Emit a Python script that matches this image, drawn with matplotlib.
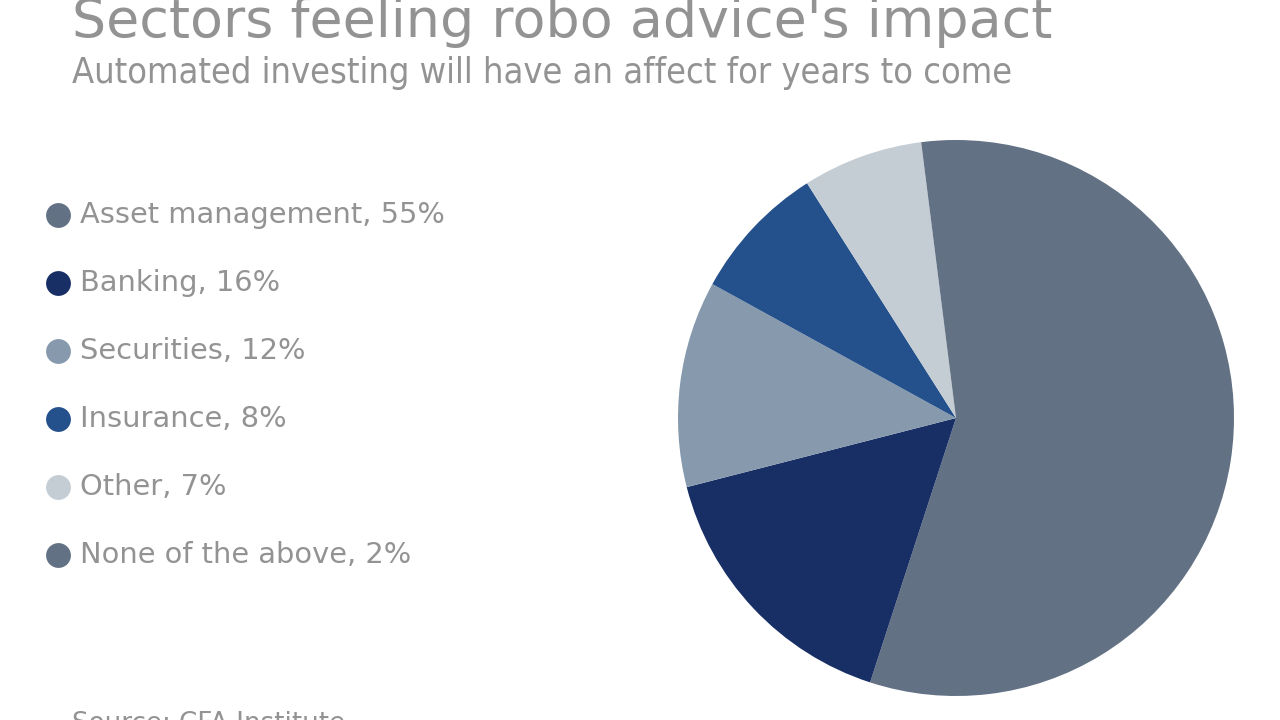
import matplotlib
matplotlib.use("Agg")
import matplotlib.pyplot as plt

categories = ["Asset management", "Banking", "Securities", "Insurance", "Other", "None of the above"]
values = [55, 16, 12, 8, 7, 2]
colors = ["#637184", "#182f66", "#879aad", "#24508c", "#c4cdd4", "#637184"]

title = "Sectors feeling robo advice's impact"
subtitle = "Automated investing will have an affect for years to come"
source = "Source: CFA Institute"

W, H = 1280, 720
fig = plt.figure(figsize=(W / 100, H / 100), dpi=100)
fig.patch.set_facecolor("white")

gray = "#939393"

fig.text(72 / W, 1 - 37 / H, title, fontsize=38.8, color=gray, family=["DejaVu Sans"],
         ha="left", va="baseline")
fig.text(72 / W, 1 - 83 / H, subtitle, fontsize=25.9, color=gray, family=["DejaVu Sans"],
         stretch="condensed", ha="left", va="baseline")
fig.text(72 / W, 1 - 711 / H, source, fontsize=18.8, color=gray, family=["DejaVu Sans"],
         ha="left", va="top")

# Pie
cx, cy, r = 956, 418, 278
ax = fig.add_axes([(cx - r) / W, (H - cy - r) / H, 2 * r / W, 2 * r / H])
ax.pie(values, colors=colors, startangle=90, counterclock=False,
       wedgeprops=dict(linewidth=0), radius=1)
ax.set_xlim(-1, 1)
ax.set_ylim(-1, 1)
ax.set_aspect("equal")
ax.axis("off")

# Legend
lax = fig.add_axes([0, 0, 1, 1])
lax.set_xlim(0, W)
lax.set_ylim(H, 0)
lax.axis("off")
y0, dy = 215, 68
for i, (c, v, col) in enumerate(zip(categories, values, colors)):
    y = y0 + i * dy
    lax.scatter([58], [y], s=320, color=col, zorder=3, linewidths=0)
    lax.text(80, y, f"{c}, {v}%", fontsize=20.8, color=gray,
             family=["DejaVu Sans"], ha="left", va="center")

fig.savefig("out.png", dpi=100, facecolor="white")
